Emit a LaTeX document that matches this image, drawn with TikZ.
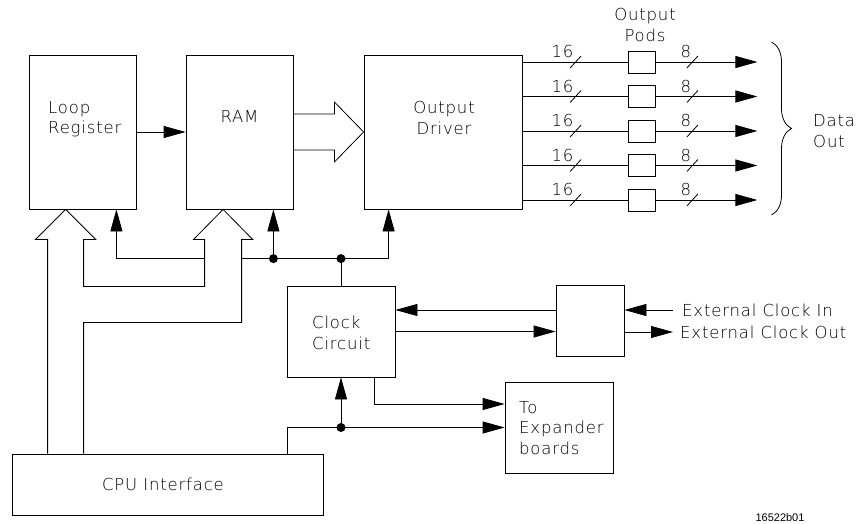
\documentclass[tikz,border=0pt]{standalone}
\usepackage{fontspec}
\setmainfont{DejaVu Sans ExtraLight}[LetterSpace=5]
\newfontfamily\tagfont{Liberation Sans}
\usetikzlibrary{arrows.meta,calc,decorations.pathreplacing}
\tikzset{
  >={Triangle[length=22pt,width=12pt]},
  wire/.style={draw=black,line width=0.8pt},
  sig/.style={wire,->},
  blk/.style={rectangle,draw=black,line width=0.8pt,inner sep=0pt},
  podbox/.style={blk,minimum width=27pt,minimum height=22pt},
  jdot/.style={circle,fill=black,inner sep=0pt,minimum size=9pt},
  lbl/.style={inner sep=0pt,align=left,font=\fontsize{16.5}{20.5}\selectfont},
  num/.style={inner sep=0pt,font=\fontsize{16.5}{20}\selectfont}
}
\begin{document}
\begin{tikzpicture}[x=1pt,y=-1pt]
  \path[use as bounding box,fill=white] (0,0) rectangle (862,524);
  % blocks
  \node[blk,minimum width=107pt,minimum height=154pt] (lr) at (82.5,132) {};
  \node[blk,minimum width=107pt,minimum height=154pt] (ram) at (239.5,132) {};
  \node[blk,minimum width=158pt,minimum height=154pt] (od) at (443,132) {};
  \node[blk,minimum width=108pt,minimum height=91pt] (cc) at (341,331.5) {};
  \node[blk,minimum width=68pt,minimum height=71pt] (ext) at (590,320.5) {};
  \node[blk,minimum width=108pt,minimum height=91pt] (exp) at (559,427.5) {};
  \node[blk,minimum width=311pt,minimum height=61pt] (cpu) at (167.5,484.5) {};
  % texts
  \node[lbl,anchor=west] (lrtxt) at (48,119) {Loop\\Register};
  \node[lbl] (ramtxt) at (239.5,116) {RAM};
  \node[lbl,align=center] (odtxt) at (444,118) {Output\\Driver};
  \node[lbl,anchor=west] (cctxt) at (312,333) {Clock\\Circuit};
  \node[lbl,anchor=west] (exptxt) at (519,428) {To\\Expander\\boards};
  \node[lbl] (cputxt) at (163,484) {CPU Interface};
  \node[lbl,align=center] (podtxt) at (645,25) {Output\\Pods};
  \node[lbl,anchor=west] (datatxt) at (813,131) {Data\\Out};
  \node[lbl,anchor=west,inner xsep=9pt] (clkin) at (673,310) {External Clock In};
  \node[lbl,anchor=west,inner xsep=7pt] (clkout) at (673,332) {External Clock Out};
  \node[font=\tagfont\fontsize{11}{11}\selectfont] (tag) at (780,518) {16522b01};
  % register to ram, ram to driver
  \draw[sig] (lr) -- (ram);
  \draw[wire] ($(ram.east)+(0,-18)$) -- ++(41,0) -- ++(0,-12) -- (od.west)
    -- ($(ram.east)+(41,30)$) -- ++(0,-12) -- ($(ram.east)+(0,18)$);
  % bus from cpu
  \coordinate (lrtip) at ($(lr.south west)+(37,0)$);
  \coordinate (ramtip) at ($(ram.south west)+(37.5,0)$);
  \draw[wire] ($(cpu.north west)+(36,0)$) -- ($(lrtip)+(-18,30)$) -- ++(-12,0) -- (lrtip)
    -- ++(30,30) -- ++(-12,0) -- ++(0,47) -| ($(ramtip)+(-18.5,30)$) -- ++(-11,0)
    -- (ramtip) -- ++(29.5,30) -- ++(-11,0) -- ++(0,83) -| ($(cpu.north west)+(72,0)$);
  % clock lines
  \coordinate (clk) at ($(cc.north)+(0,-27)$);
  \coordinate (ramclk) at ($(ram.south east |- clk)+(-20,0)$);
  \draw[wire] (cc.north) -- (clk);
  \draw[sig] (clk) -| ($(od.south west)+(25,0)$);
  \draw[wire] ($(ramtip |- clk)+(18.5,0)$) -- (clk);
  \draw[sig] (ramclk) -- (ramclk |- ram.south);
  \draw[sig] ($(ramtip |- clk)+(-18.5,0)$) -| ($(lr.south east)+(-20,0)$);
  \node[jdot] (d1) at (ramclk) {};
  \node[jdot] (d2) at (clk) {};
  \draw[sig] ($(ext.west)+(0,-10.5)$) -- ($(cc.east)+(0,-21.5)$);
  \draw[sig] (cc.east) -- (cc.east -| ext.west);
  \draw[sig] (clkin.west) -- (clkin.west -| ext.east);
  \draw[sig] (ext.east |- clkout.west) -- (clkout.west);
  % expander
  \coordinate (cpuclk) at (cc.south |- exp.west);
  \draw[sig] ($(cc.south east)+(-21,0)$) |- ($(exp.west)+(0,-23.5)$);
  \draw[sig] ($(cpu.north east)+(-36,0)$) |- (exp.west);
  \draw[sig] (cpuclk) -- (cc.south);
  \node[jdot] (d3) at (cpuclk) {};
  % output pods
  \foreach \i in {0,...,4}{
    \node[podbox] (pod\i) at (641.5,62+34.5*\i) {};
    \draw[wire] (od.east |- pod\i) -- (pod\i);
    \draw[sig] (pod\i.east) -- ++(102,0);
    \draw[wire] ($(pod\i.west)+(-57.5,6)$) -- ++(11,-12);
    \node[num,anchor=south east] (wa\i) at ($(pod\i.west)+(-54,-4)$) {16};
    \draw[wire] ($(pod\i.east)+(31.5,6)$) -- ++(11,-12);
    \node[num,anchor=south east] (wb\i) at ($(pod\i.east)+(36,-4)$) {8};
  }
  \draw[wire,decorate,decoration={brace,amplitude=20pt}] (771.5,42) -- (771.5,215);
\end{tikzpicture}
\end{document}
